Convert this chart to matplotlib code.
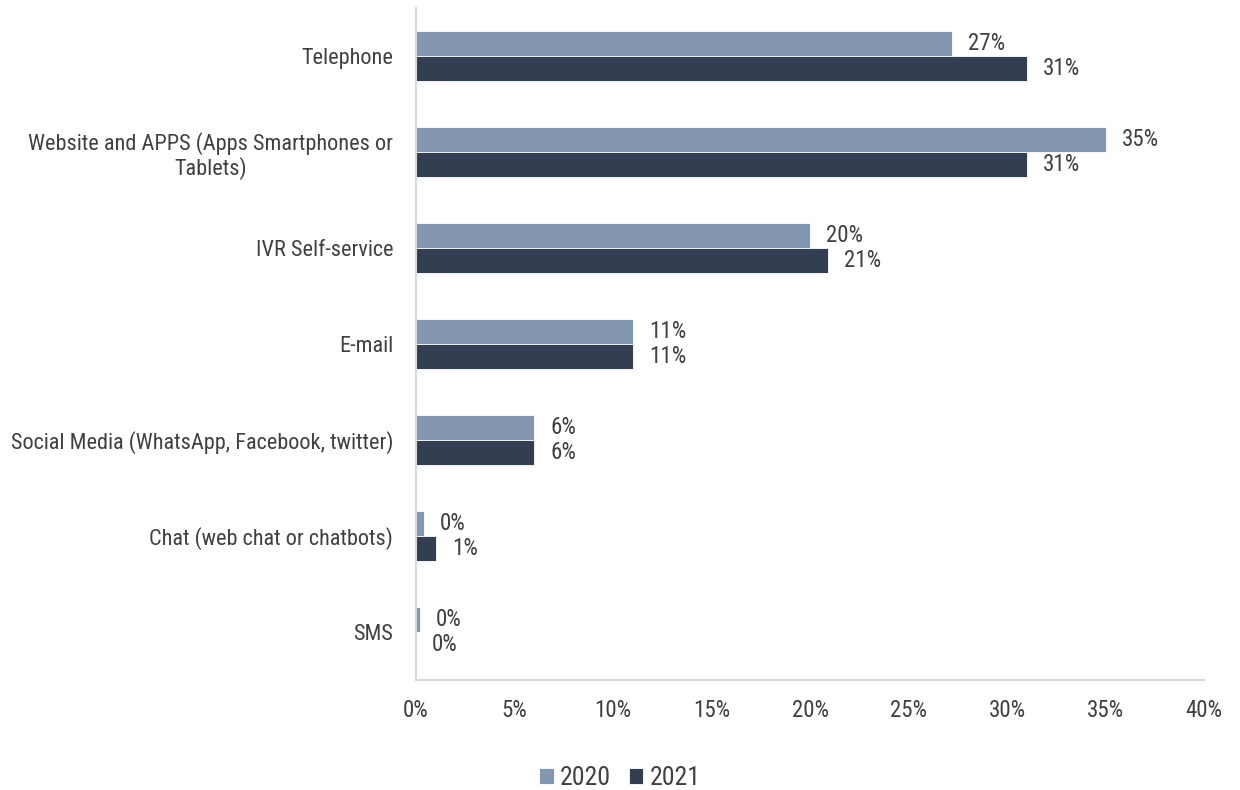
import matplotlib
matplotlib.use("Agg")
import matplotlib.pyplot as plt
import numpy as np
from matplotlib import font_manager

channels = [
    "Telephone",
    "Website and APPS (Apps Smartphones or\nTablets)",
    "IVR Self-service",
    "E-mail",
    "Social Media (WhatsApp, Facebook, twitter)",
    "Chat (web chat or chatbots)",
    "SMS",
]
share_2020 = [27.2, 35.0, 20.0, 11.0, 6.0, 0.4, 0.2]
share_2021 = [31.0, 31.0, 20.9, 11.0, 6.0, 1.0, 0.0]
years = ["2020", "2021"]
x_ticks = [0, 5, 10, 15, 20, 25, 30, 35, 40]

installed = {f.name for f in font_manager.fontManager.ttflist}
family = next((f for f in ("Roboto Condensed", "Archivo Narrow", "Liberation Sans")
               if f in installed), "DejaVu Sans")
plt.rcParams["font.family"] = [family, "DejaVu Sans"]

text_color = "#404040"
c2020 = "#8497B0"
c2021 = "#333F50"
fs_cat = 16
fs_num = 16.5
fs_leg = 18.5

fig = plt.figure(figsize=(12.4, 7.9), dpi=100)
ax = fig.add_axes([416 / 1240, 110 / 790, (1204 - 416) / 1240, 672 / 790])

y = np.arange(len(channels))
h = 0.26
b1 = ax.barh(y - h / 2, share_2020, height=h, color=c2020, label=years[0],
             edgecolor="white", linewidth=0.6)
b2 = ax.barh(y + h / 2, share_2021, height=h, color=c2021, label=years[1],
             edgecolor="white", linewidth=0.6)

# value labels just past the end of each bar
for bars, vals in ((b1, share_2020), (b2, share_2021)):
    for rect, v in zip(bars, vals):
        ax.annotate(f"{round(v):.0f}%", xy=(v, rect.get_y() + rect.get_height() / 2),
                    xytext=(16, 0), textcoords="offset pixels",
                    va="center", ha="left", fontsize=fs_num, color=text_color)

ax.set_xlim(0, 40)
ax.set_ylim(len(channels) - 0.5, -0.5)
ax.set_xticks(x_ticks)
ax.set_xticklabels([f"{t}%" for t in x_ticks], fontsize=fs_num)
ax.set_yticks(y)
ax.set_yticklabels(channels, multialignment="center", linespacing=1.12, fontsize=fs_cat)
ax.tick_params(axis="both", length=0, labelcolor=text_color)
ax.tick_params(axis="x", pad=14)
ax.tick_params(axis="y", pad=16.5)

for side in ("top", "right"):
    ax.spines[side].set_visible(False)
for side in ("left", "bottom"):
    ax.spines[side].set_color("#D9D9D9")
    ax.spines[side].set_linewidth(1.5)

leg = fig.legend(handles=[b1, b2], labels=years, loc="center",
                 bbox_to_anchor=(0.5, 12 / 790), ncol=2, frameon=False,
                 fontsize=fs_leg, handlelength=0.55, handleheight=0.55,
                 handletextpad=0.25, columnspacing=0.7)
for t in leg.get_texts():
    t.set_color(text_color)

fig.savefig("out.png", dpi=100)
